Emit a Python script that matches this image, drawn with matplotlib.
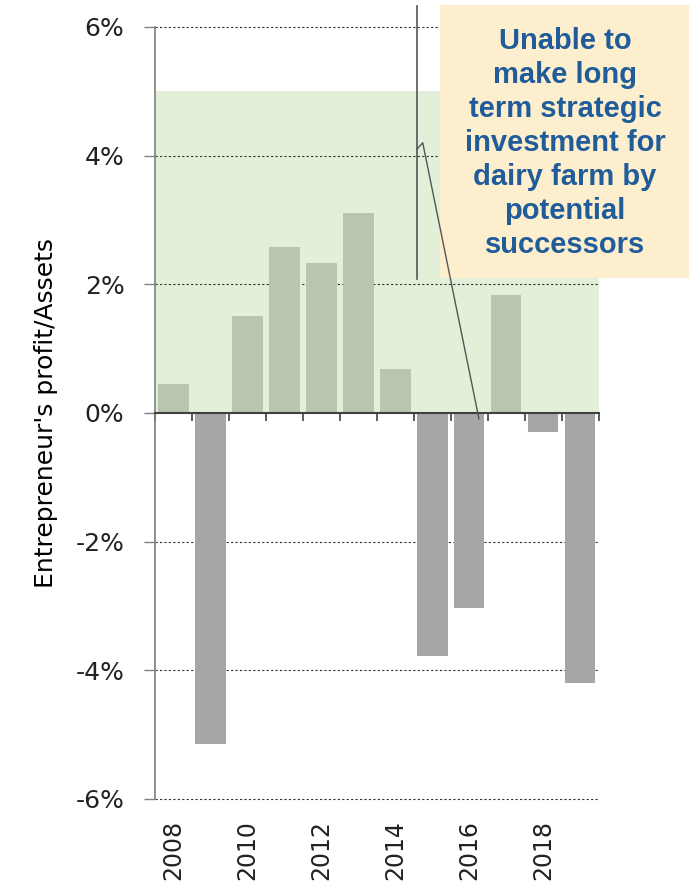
import matplotlib
matplotlib.use("Agg")
import matplotlib.pyplot as plt
from matplotlib.lines import Line2D
import numpy as np

# values (percent)
years = [2008, 2009, 2010, 2011, 2012, 2013, 2014, 2015, 2016, 2017, 2018, 2019]
profit_pct = [0.45, -5.15, 1.51, 2.58, 2.33, 3.11, 0.68, -3.78, -3.03, 1.84, -0.30, -4.20]
y_ticks = [-6, -4, -2, 0, 2, 4, 6]
label_years = [2008, 2010, 2012, 2014, 2016, 2018]
band_top = 5.0
callout_text = "Unable to\nmake long\nterm strategic\ninvestment for\ndairy farm by\npotential\nsuccessors"

pos_color = "#b8c5b0"
neg_color = "#a6a6a6"
band_color = "#e2efd9"

fig = plt.figure(figsize=(6.89, 8.85), dpi=100)
ax = fig.add_axes([0.225, 0.0972, 0.644, 0.8723])

x = np.arange(len(years))
colors = [pos_color if v >= 0 else neg_color for v in profit_pct]

# green band behind the positive bars
ax.axhspan(0, band_top, color=band_color, zorder=0, lw=0)
ax.bar(x, profit_pct, width=0.82, color=colors, zorder=2)

ax.set_xlim(-0.5, len(years) - 0.5)
ax.set_ylim(-6, 6)

# dotted gridlines
for t in y_ticks:
    if t != 0:
        ax.axhline(t, color="#333333", lw=0.8, ls=(0, (2, 2)), zorder=1, clip_on=False)

# y axis
ax.set_yticks(y_ticks)
ax.set_yticklabels([f"{t}%" for t in y_ticks], fontsize=18, color="#222222")
ax.tick_params(axis="y", length=8, width=1, color="#808080", pad=14)
ax.spines["left"].set_color("#808080")
ax.spines["left"].set_linewidth(1.2)
for s in ["top", "right"]:
    ax.spines[s].set_visible(False)

# category axis on the zero line, ticks between the bars
ax.spines["bottom"].set_position(("data", 0))
ax.spines["bottom"].set_color("#404040")
ax.spines["bottom"].set_linewidth(1.5)
ax.spines["bottom"].set_zorder(3)
ax.set_xticks(np.arange(-0.5, len(years), 1.0))
ax.set_xticklabels([])
ax.tick_params(axis="x", direction="out", length=6, width=1.2, color="#404040")

# year labels at the bottom
sec = ax.secondary_xaxis("bottom")
sec.set_xticks([years.index(y) for y in label_years])
sec.set_xticklabels([str(y) for y in label_years], rotation=90, fontsize=17, color="#222222")
sec.tick_params(length=0, pad=15)
sec.spines["bottom"].set_visible(False)

ax.set_ylabel("Entrepreneur's profit/Assets", fontsize=18,
              family=["Liberation Sans Narrow", "DejaVu Sans"], labelpad=13)

# callout box
box = plt.Rectangle((440 / 689, 1 - 278 / 885), 249 / 689, 273 / 885,
                    transform=fig.transFigure, facecolor="#fdefce", edgecolor="none", zorder=5)
fig.patches.append(box)
fig.text(565 / 689, 1 - 143 / 885, callout_text, ha="center", va="center",
         fontsize=21, fontweight="bold", color="#1f5c99", family="Liberation Sans",
         linespacing=1.27, zorder=6)

# callout leader lines (drawn above the box)
fig.add_artist(Line2D([6.58, 6.58], [6.33, 2.08], color="#555555", lw=1.2,
                      transform=ax.transData, zorder=7))
fig.add_artist(Line2D([6.58, 6.74, 8.26], [4.1, 4.2, -0.09], color="#555555", lw=1.0,
                      transform=ax.transData, zorder=7))

fig.savefig("out.png", dpi=100)
